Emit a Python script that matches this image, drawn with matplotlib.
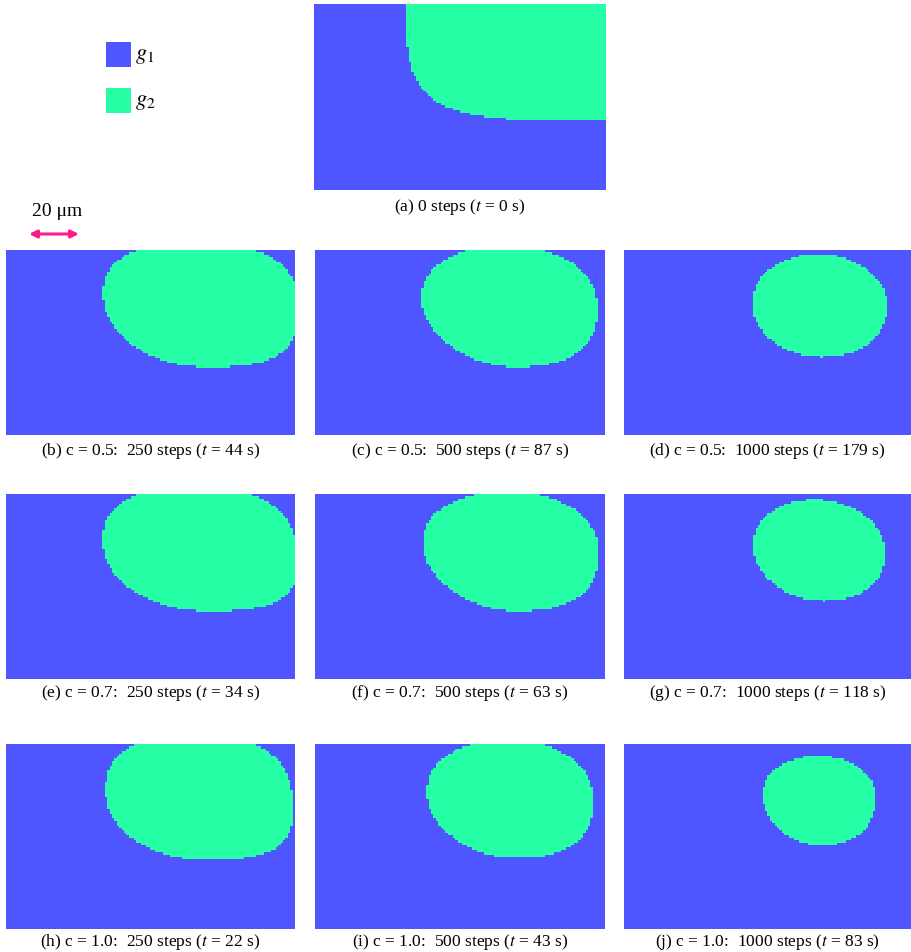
import numpy as np
import matplotlib
matplotlib.use("Agg")
import matplotlib.pyplot as plt
from matplotlib.colors import ListedColormap
from matplotlib.patches import FancyArrowPatch, Rectangle

# ---------------- data ----------------
c_values = [0.5, 0.7, 1.0]
step_counts = [250, 500, 1000]
times_s = [[44, 87, 179],
           [34, 63, 118],
           [22, 43, 83]]
panel_letters = ["a", "b", "c", "d", "e", "f", "g", "h", "i", "j"]

# grain g2 shape (fractions of panel width / height, y downward)
# order: a, b, c, d, e, f, g, h, i, j
grain_cx = [1.30, 0.672, 0.670, 0.681, 0.671, 0.674, 0.679, 0.668, 0.672, 0.680]
grain_cy = [-0.30, 0.265, 0.280, 0.292, 0.297, 0.286, 0.292, 0.286, 0.281, 0.281]
grain_a_left = [0.985, 0.335, 0.302, 0.235, 0.334, 0.302, 0.230, 0.322, 0.286, 0.196]
grain_a_right = [1.00, 0.335, 0.302, 0.235, 0.334, 0.302, 0.230, 0.322, 0.286, 0.196]
grain_b_top = [1.00, 0.300, 0.298, 0.270, 0.332, 0.295, 0.262, 0.331, 0.300, 0.216]
grain_b_bottom = [0.929, 0.367, 0.352, 0.286, 0.335, 0.346, 0.286, 0.341, 0.335, 0.265]
grain_power_top = [6.0, 2.5, 2.2, 2.0, 2.5, 2.2, 2.0, 2.5, 2.2, 2.1]
grain_power_bottom_left = [6.0, 2.0, 1.9, 2.0, 2.0, 1.9, 2.0, 2.0, 1.9, 2.0]
grain_power_bottom_right = [6.0, 3.0, 2.5, 2.2, 3.0, 2.5, 2.2, 3.0, 2.5, 2.3]
grain_shear = [0.0, 0.05, 0.05, 0.02, 0.07, 0.05, 0.06, 0.05, 0.04, 0.02]

legend_labels = ["$g_1$", "$g_2$"]
scale_label = "20 μm"

# ---------------- style ----------------
BLUE = "#4F56FF"
GREEN = "#27FFA6"
PINK = "#FF1A8C"
plt.rcParams["font.family"] = ["Liberation Serif", "DejaVu Serif"]
plt.rcParams["mathtext.fontset"] = "stix"

W, H = 911, 953
fig = plt.figure(figsize=(W / 100, H / 100), dpi=100)

NX, NY = 120, 77
cmap = ListedColormap([BLUE, GREEN])


def px_axes(x0, y0, x1, y1):
    return fig.add_axes([x0 / W, 1 - y1 / H, (x1 - x0) / W, (y1 - y0) / H])


def grain_field(k):
    u = (np.arange(NX) + 0.5) / NX
    v = (np.arange(NY) + 0.5) / NY
    U, V = np.meshgrid(u, v)
    dy = V - grain_cy[k]
    dx = U - (grain_cx[k] + grain_shear[k] * dy)
    ax_ = np.where(dx < 0, grain_a_left[k], grain_a_right[k])
    by_ = np.where(dy < 0, grain_b_top[k], grain_b_bottom[k])
    n = np.where(dy < 0, grain_power_top[k],
                 np.where(dx < 0, grain_power_bottom_left[k],
                          grain_power_bottom_right[k]))
    inside = np.abs(dx / ax_) ** n + np.abs(dy / by_) ** n <= 1.0
    return inside.astype(int)


def draw_panel(k, box, caption, cap_y):
    ax = px_axes(*box)
    ax.imshow(grain_field(k), cmap=cmap, vmin=0, vmax=1, aspect="auto",
              interpolation="nearest", extent=[0, 1, 1, 0])
    ax.set_axis_off()
    xc = (box[0] + box[2]) / 2
    fig.text(xc / W, 1 - cap_y / H, caption, ha="center", va="center",
             fontsize=12.5)


# panel (a)
draw_panel(0, (314, 5, 606, 191), "(a) 0 steps ($t$ = 0 s)", 207)

col_x = [(6, 295), (315, 605), (624, 911)]
row_y = [(251, 436), (495, 680), (745, 930)]
cap_rows = [451, 693, 942]
k = 1
for r, c in enumerate(c_values):
    for j, st in enumerate(step_counts):
        cap = f"({panel_letters[k]}) c = {c:.1f}:  {st} steps ($t$ = {times_s[r][j]} s)"
        draw_panel(k, (col_x[j][0], row_y[r][0], col_x[j][1], row_y[r][1]),
                   cap, cap_rows[r])
        k += 1

# legend
overlay = fig.add_axes([0, 0, 1, 1])
overlay.set_xlim(0, W)
overlay.set_ylim(H, 0)
overlay.set_axis_off()
for lab, col, y0 in zip(legend_labels, [BLUE, GREEN], [43, 89]):
    overlay.add_patch(Rectangle((106, y0), 25, 25, facecolor=col, edgecolor="none"))
    overlay.text(135, y0 + 14, lab, fontsize=16, va="center", ha="left")

# scale bar
overlay.text(57, 211, scale_label, fontsize=14, ha="center", va="center")
overlay.add_patch(FancyArrowPatch((29, 235), (79, 235), arrowstyle="<|-|>",
                                  mutation_scale=11, color=PINK, lw=2.2,
                                  shrinkA=0, shrinkB=0))

fig.savefig("out.png", dpi=100)
